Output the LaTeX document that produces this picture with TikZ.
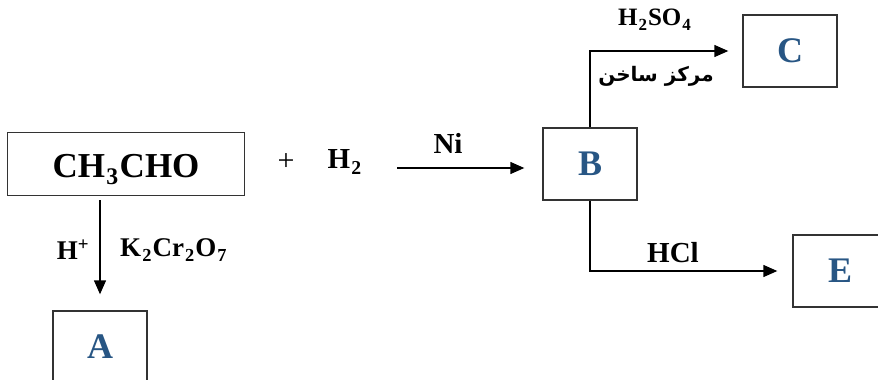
\documentclass[tikz,border=0pt]{standalone}
\usepackage{fontspec}
\setmainfont{Liberation Serif}
\newfontfamily\arabicfont[Script=Arabic]{DejaVu Sans}
\TeXXeTstate=1
\usetikzlibrary{arrows.meta}
\definecolor{xanh}{RGB}{40,86,132}
\newcommand{\csd}[1]{\kern.04em\raisebox{-.2em}{\scalebox{.68}{#1}}\kern.04em}
\begin{document}
\begin{tikzpicture}[x=1pt,y=-1pt,line width=1.4pt,
            hop/.style={draw=black!80,minimum width=94pt,minimum height=72pt,
                text=xanh,font=\bfseries\fontsize{36}{36}\selectfont},
            nhan/.style={font=\bfseries\fontsize{27}{27}\selectfont},
            mui/.style={-{Triangle[length=14pt,width=12pt]}}]
            \useasboundingbox (0,0) rectangle (878,380);
            \path
            (126,164) node[draw=black!80,minimum width=237pt,minimum height=63pt,
                text height=27pt,text depth=0pt,
                font=\bfseries\fontsize{35}{35}\selectfont] (X) {CH\csd{3}CHO} % <<< dòng 1
            (286,162) node[font=\fontsize{30}{30}\selectfont] (cong) {+}
            (345,162) node[nhan,font=\bfseries\fontsize{29}{29}\selectfont] (H) {H\csd{2}}
            (590,164) node[hop] (B) {B}
            (790,51) node[hop] (C) {C}
            (840,271) node[hop] (E) {E}
            (100,347) node[hop] (A) {A};
            \coordinate (dau) at (397,168);
            \path % <<< nhãn
            (448,143) node[nhan,font=\bfseries\fontsize{29}{29}\selectfont] (ni) {Ni}
            (655,20) node[nhan,font=\bfseries\fontsize{25}{25}\selectfont] (axit) {H\csd{2}SO\csd{4}}
            (656,76) node[font=\arabicfont\bfseries\fontsize{20}{20}\selectfont] (dk) {\beginR مركز ساخن\endR}
            (673,253) node[nhan,font=\bfseries\fontsize{29}{29}\selectfont] (hcl) {HCl}
            (73,250) node[nhan] (hp) {H\textsuperscript{+}}
            (174,250) node[nhan] (kk) {K\csd{2}Cr\csd{2}O\csd{7}};
            \begin{scope}[mui]
                \draw (dau)--([xshift=-18pt]B.west |- dau);
                \draw (B.north) |- ([xshift=-14pt]C.west);
                \draw (B.south) |- ([xshift=-15pt]E.west);
                \draw ([yshift=-4pt]X.south -| A.north)--([yshift=16pt]A.north);
            \end{scope}
        \end{tikzpicture}
\end{document}
